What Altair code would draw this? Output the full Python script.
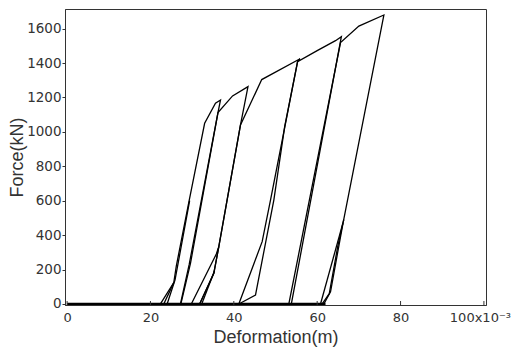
import altair as alt
import pandas as pd

# ---- data (deformation in 1e-3 m, force in kN) ----
base_x = [0.0, 62.0]
base_y = [0, 0]

c1_x = [22.4, 25.6, 26.2, 29.2, 33.0, 35.6, 36.8, 36.2, 29.6, 27.3]
c1_y = [0, 124, 220, 590, 1050, 1166, 1185, 1112, 236, 0]

c1b_x = [23.2, 25.6]
c1b_y = [0, 124]

c1c_x = [24.0, 25.9, 29.4]
c1c_y = [0, 140, 600]

c2_x = [27.2, 29.3, 36.2, 39.7, 43.4, 41.6, 36.4, 35.2, 31.8]
c2_y = [0, 230, 1112, 1209, 1263, 1040, 333, 178, 0]

c2b_x = [29.8, 35.8, 36.4]
c2b_y = [0, 290, 333]

c2c_x = [32.3, 35.4]
c2c_y = [0, 195]

c3_x = [31.8, 35.2, 36.4, 41.6, 46.7, 55.9, 55.3, 52.2, 49.6, 45.2, 41.2]
c3_y = [0, 178, 333, 1040, 1304, 1425, 1408, 1030, 604, 52, 0]

c4_x = [41.2, 46.8, 48.8, 55.3, 60.0, 64.4, 65.8, 53.8]
c4_y = [0, 362, 604, 1408, 1472, 1530, 1553, 0]

c5_x = [53.2, 65.6, 70.0, 76.0, 66.4, 64.9, 62.9, 61.2]
c5_y = [0, 1519, 1615, 1679, 495, 330, 60, 0]

c6_x = [60.8, 66.4]
c6_y = [0, 490]

c6b_x = [61.6, 63.2, 66.2]
c6b_y = [0, 71, 470]

x_ticks = [0, 20, 40, 60, 80, 100]
y_ticks = [0, 200, 400, 600, 800, 1000, 1200, 1400, 1600]

segments = [
    ("c1", c1_x, c1_y), ("c1b", c1b_x, c1b_y), ("c1c", c1c_x, c1c_y),
    ("c2", c2_x, c2_y), ("c2b", c2b_x, c2b_y), ("c2c", c2c_x, c2c_y),
    ("c3", c3_x, c3_y), ("c4", c4_x, c4_y), ("c5", c5_x, c5_y),
    ("c6", c6_x, c6_y), ("c6b", c6b_x, c6b_y),
]
rows = []
for name, xs, ys in segments:
    for i, (xv, yv) in enumerate(zip(xs, ys)):
        rows.append({"seg": name, "i": i, "x": xv, "y": yv})
df = pd.DataFrame(rows)
df_base = pd.DataFrame({"seg": "base", "i": range(len(base_x)), "x": base_x, "y": base_y})
df_ticks = pd.DataFrame({"x": x_ticks})

W, H = 421, 296
LABEL_FONT = "DejaVu Sans"
TITLE_FONT = "Liberation Sans"
TXT = "#333333"

xscale = alt.Scale(domain=[-0.5, 100.5], nice=False, zero=False)
yscale = alt.Scale(domain=[-6, 1714], nice=False, zero=False)

x_axis = alt.Axis(
    values=x_ticks, title="Deformation(m)", grid=False, ticks=False,
    labelExpr="datum.value == 100 ? '100x10⁻³' : datum.label",
    labelFont=LABEL_FONT, labelFontSize=13, labelColor=TXT, labelPadding=6,
    labelOverlap=False,
    labelOffset={"condition": {"test": "datum.value == 100", "value": -4}, "value": 0},
    titleFont=TITLE_FONT, titleFontSize=18, titleFontWeight="normal", titleColor=TXT,
    titlePadding=4, domainColor="#333333", labelFlush=False,
)
y_axis = alt.Axis(
    values=y_ticks, title="Force(kN)", grid=False, ticks=True, tickSize=3,
    format="d", labelOverlap=False,
    tickColor="#333333", labelFont=LABEL_FONT, labelFontSize=13.5, labelColor=TXT,
    labelPadding=1, titleFont=TITLE_FONT, titleFontSize=18, titleFontWeight="normal",
    titleColor=TXT, titlePadding=0, domainColor="#333333", labelFlush=False,
)

lines = alt.Chart(df).mark_line(color="black", strokeWidth=1.3, clip=True).encode(
    x=alt.X("x:Q", scale=xscale, axis=x_axis),
    y=alt.Y("y:Q", scale=yscale, axis=y_axis),
    detail="seg:N",
    order="i:Q",
)

base = alt.Chart(df_base).mark_line(color="black", strokeWidth=2.6, clip=True).encode(
    x=alt.X("x:Q", scale=xscale, axis=x_axis),
    y=alt.Y("y:Q", scale=yscale, axis=y_axis),
    order="i:Q",
)

xticks = alt.Chart(df_ticks).mark_rule(color="#333333", strokeWidth=1).encode(
    x=alt.X("x:Q", scale=xscale, axis=x_axis),
    y=alt.value(H),
    y2=alt.value(H - 4),
)

chart = alt.layer(lines, base, xticks).properties(
    width=W, height=H,
    padding={"left": 65, "top": 9, "right": 27, "bottom": 50},
    autosize=alt.AutoSizeParams(type="none"),
    background="white",
).configure_view(stroke="#333333", strokeWidth=1).configure_axis(labelOverlap=False)

chart.save("out.html", embed_options={"renderer": "svg", "actions": False})
